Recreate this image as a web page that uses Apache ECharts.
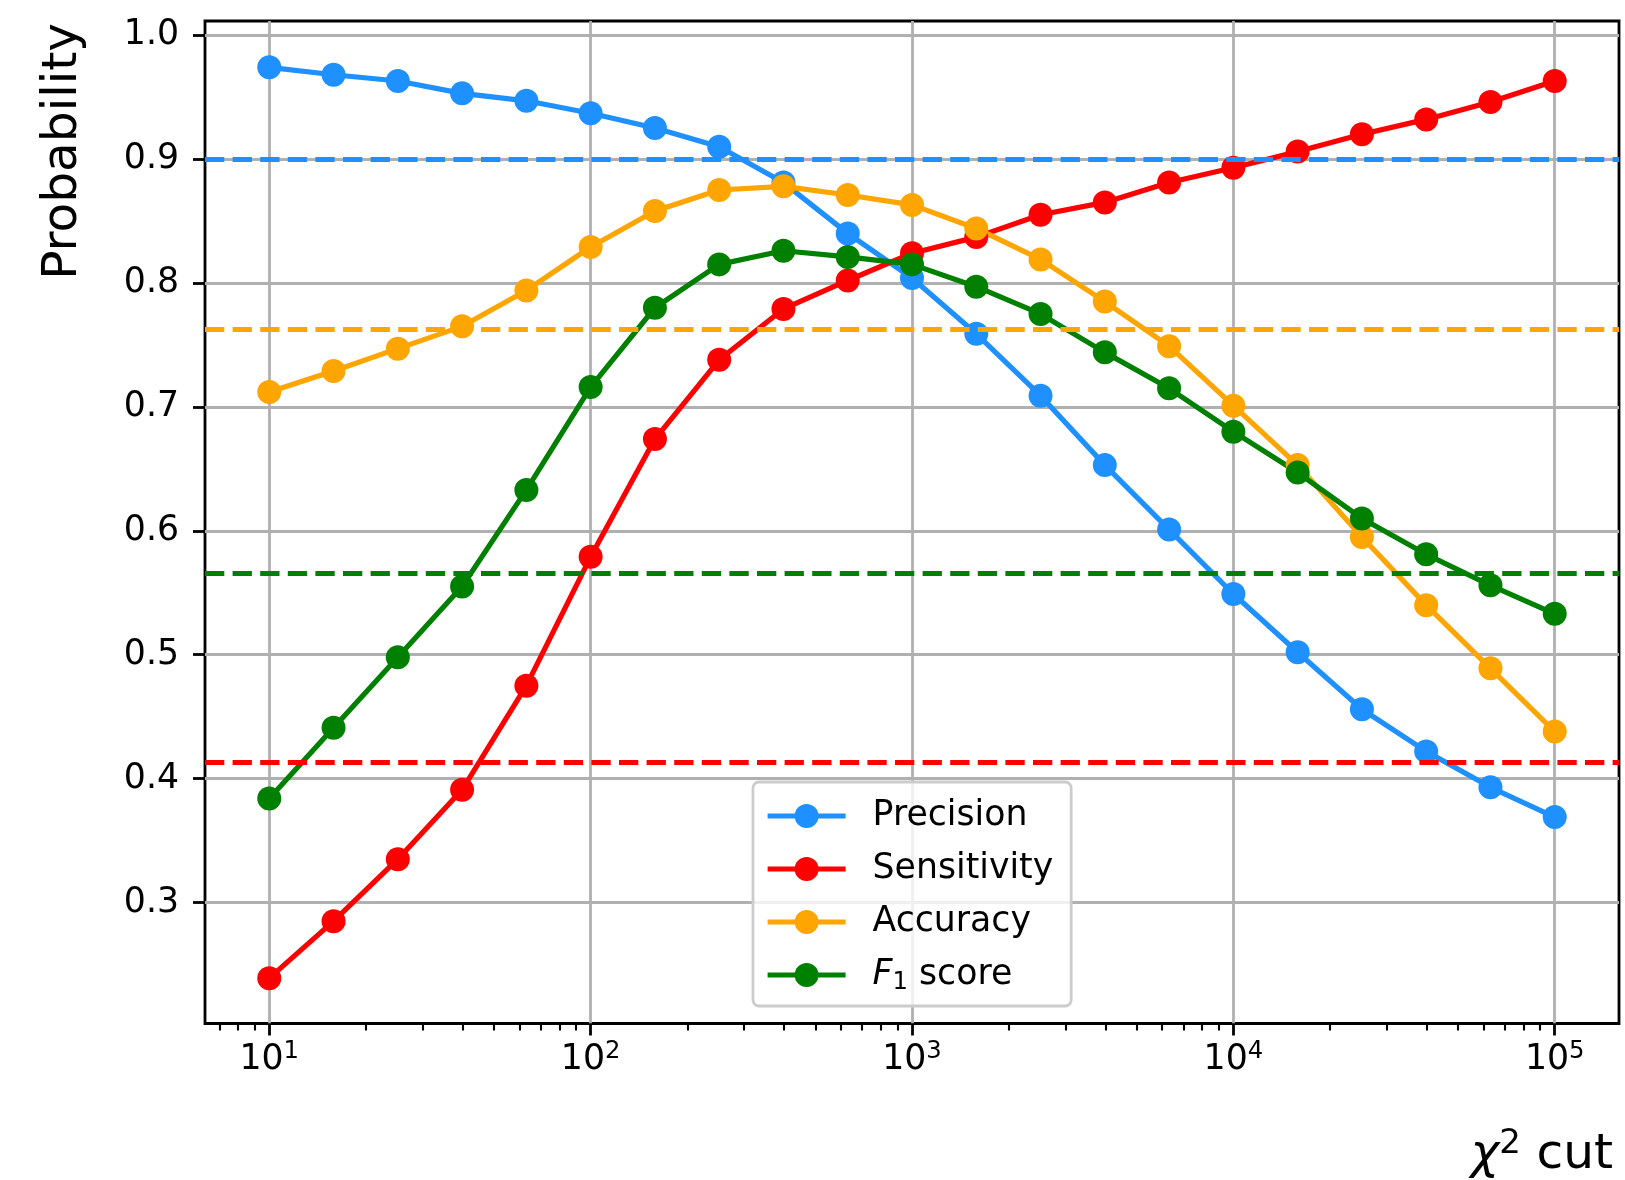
<!DOCTYPE html>
<html>
<head>
<meta charset="utf-8">
<script src="https://cdn.jsdelivr.net/npm/echarts@6/dist/echarts.min.js"></script>
<style>
html,body{margin:0;padding:0;background:#fff;}
#chart{width:1625px;height:1180px;}
</style>
</head>
<body>
<div id="chart"></div>
<script>
// chi^2 cut values (x)
const chi2Cut = [10, 15.85, 25.12, 39.81, 63.1, 100, 158.5, 251.2, 398.1, 631, 1000, 1585, 2512, 3981, 6310, 10000, 15850, 25120, 39810, 63100, 100000];
const precision   = [0.974,0.968,0.963,0.953,0.947,0.937,0.925,0.910,0.881,0.840,0.804,0.759,0.709,0.653,0.601,0.549,0.502,0.456,0.422,0.393,0.369];
const sensitivity = [0.239,0.285,0.335,0.391,0.475,0.579,0.674,0.738,0.779,0.802,0.824,0.837,0.855,0.865,0.881,0.893,0.906,0.920,0.932,0.946,0.963];
const accuracy    = [0.712,0.729,0.747,0.765,0.794,0.829,0.858,0.875,0.878,0.871,0.863,0.844,0.819,0.785,0.749,0.701,0.653,0.595,0.540,0.489,0.438];
const f1score     = [0.384,0.441,0.498,0.555,0.633,0.716,0.780,0.815,0.826,0.821,0.815,0.797,0.775,0.744,0.715,0.680,0.647,0.610,0.581,0.556,0.533];
// reference (dashed) levels
const baselines = { precision: 0.900, sensitivity: 0.413, accuracy: 0.763, f1: 0.566 };
// ticks
const xMajorTicks = [10, 100, 1000, 10000, 100000];
const xMinorTicks = [7,8,9,20,30,40,50,60,70,80,90,200,300,400,500,600,700,800,900,2000,3000,4000,5000,6000,7000,8000,9000,20000,30000,40000,50000,60000,70000,80000,90000];
const yTicks = [0.3, 0.4, 0.5, 0.6, 0.7, 0.8, 0.9, 1.0];
const seriesNames = ['Precision', 'Sensitivity', 'Accuracy', 'F1 score'];

const FONT = 'DejaVu Sans';
const colors = ['#1E90FF', '#FF0000', '#FFA500', '#008000'];
const xMin = 6.30957, xMax = 158489.3;
const yMin = 0.2024, yMax = 1.0114;

function pairs(ys) { return ys.map((y, i) => [chi2Cut[i], y]); }

function makeSeries(name, ys, color, base) {
  return {
    name: name, type: 'line', xAxisIndex: 0, yAxisIndex: 0,
    data: pairs(ys),
    symbol: 'circle', symbolSize: 24,
    lineStyle: { color: color, width: 5.2 },
    itemStyle: { color: color },
    emphasis: { disabled: true },
    animation: false,
    markLine: {
      silent: true, symbol: 'none', animation: false, precision: 4,
      label: { show: false },
      lineStyle: { color: color, width: 5.2, type: [19.3, 8.3], opacity: 1 },
      emphasis: { disabled: true },
      data: [{ yAxis: base }]
    }
  };
}

const chart = echarts.init(document.getElementById('chart'), null, { renderer: 'canvas' });
chart.setOption({
  backgroundColor: '#fff',
  animation: false,
  textStyle: { fontFamily: FONT },
  grid: {
    left: 205, top: 21, right: 6, bottom: 155,
    show: true, borderColor: '#000', borderWidth: 2.8, backgroundColor: 'transparent',
    containLabel: false
  },
  legend: {
    left: 753, top: 782,
    orient: 'vertical',
    data: seriesNames,
    itemWidth: 78, itemHeight: 30, itemGap: 13,
    padding: [14, 18, 11, 12],
    lineStyle: { width: 5.2 },
    backgroundColor: 'rgba(255,255,255,0.8)',
    borderColor: '#cccccc', borderWidth: 2.8, borderRadius: 6,
    textStyle: {
      fontFamily: FONT, fontSize: 34.7, color: '#000', lineHeight: 40,
      padding: [0, 0, 0, 22],
      rich: {
        i: { fontStyle: 'italic', fontSize: 34.7, fontFamily: FONT, lineHeight: 40, color: '#000' },
        sub: { fontSize: 24.3, fontFamily: FONT, lineHeight: 24, verticalAlign: 'bottom', color: '#000' },
        n: { fontSize: 34.7, fontFamily: FONT, lineHeight: 40, color: '#000' }
      }
    },
    formatter: function (n) { return n === 'F1 score' ? '{i|F}{sub|1}{n| score}' : n; }
  },
  xAxis: [
    {
      type: 'log', logBase: 10, min: xMin, max: xMax, gridIndex: 0,
      axisLine: { show: false },
      axisTick: { show: true, customValues: xMajorTicks, length: 12, lineStyle: { color: '#000', width: 2.8 } },
      axisLabel: {
        show: true, customValues: xMajorTicks, margin: 16,
        fontFamily: FONT, fontSize: 34.7, color: '#000',
        rich: {
          b: { fontSize: 34.7, fontFamily: FONT, lineHeight: 40, color: '#000' },
          s: { fontSize: 24.3, fontFamily: FONT, lineHeight: 24, verticalAlign: 'top', color: '#000' }
        },
        formatter: function (v) {
          const e = String(Math.round(Math.log10(v)));
          return '{b|10}{s|' + e + '}';
        }
      },
      splitLine: { show: true, lineStyle: { color: '#b0b0b0', width: 2.8 } },
      name: '{i|χ}{s|2}{b| cut}',
      nameLocation: 'end', nameGap: -6,
      nameTextStyle: {
        fontFamily: FONT, fontSize: 48.6, color: '#000',
        align: 'right', verticalAlign: 'top', padding: [104, 0, 0, 0],
        rich: {
          i: { fontStyle: 'italic', fontSize: 48.6, fontFamily: FONT, lineHeight: 56, color: '#000' },
          b: { fontSize: 48.6, fontFamily: FONT, lineHeight: 56, color: '#000' },
          s: { fontSize: 34, fontFamily: FONT, lineHeight: 34, verticalAlign: 'top', color: '#000' }
        }
      }
    },
    {
      type: 'log', logBase: 10, min: xMin, max: xMax, gridIndex: 0, position: 'bottom',
      axisLine: { show: false },
      axisTick: { show: true, customValues: xMinorTicks, length: 7, lineStyle: { color: '#000', width: 2.1 } },
      axisLabel: { show: false },
      splitLine: { show: false }
    }
  ],
  yAxis: {
    type: 'value', min: yMin, max: yMax, splitNumber: 8, gridIndex: 0,
    axisLine: { show: false },
    axisTick: { show: true, customValues: yTicks, length: 12, lineStyle: { color: '#000', width: 2.8 } },
    axisLabel: {
      show: true, customValues: yTicks, margin: 26,
      fontFamily: FONT, fontSize: 34.7, color: '#000',
      formatter: function (v) { return v.toFixed(1); }
    },
    splitLine: { show: true, lineStyle: { color: '#b0b0b0', width: 2.8 } },
    name: 'Probability',
    nameLocation: 'end', nameRotate: 90, nameGap: -2,
    nameTextStyle: {
      fontFamily: FONT, fontSize: 48.6, color: '#000',
      align: 'right', verticalAlign: 'bottom', padding: [0, 0, 117, 0]
    }
  },
  series: [
    makeSeries(seriesNames[0], precision, colors[0], baselines.precision),
    makeSeries(seriesNames[1], sensitivity, colors[1], baselines.sensitivity),
    makeSeries(seriesNames[2], accuracy, colors[2], baselines.accuracy),
    makeSeries(seriesNames[3], f1score, colors[3], baselines.f1)
  ]
});
</script>
</body>
</html>
